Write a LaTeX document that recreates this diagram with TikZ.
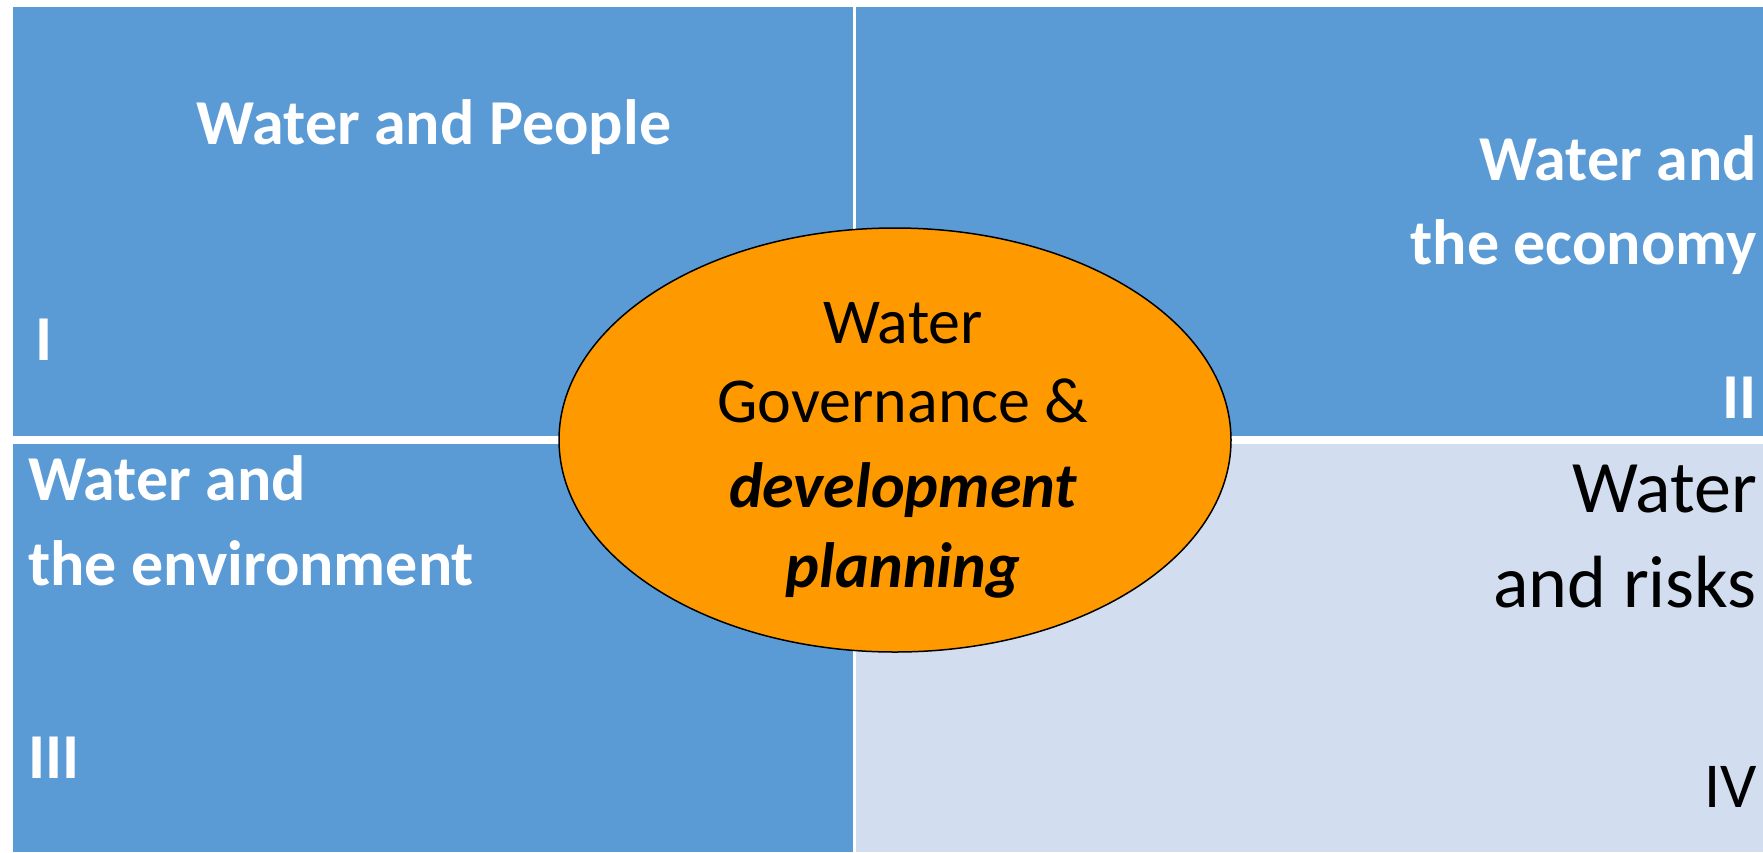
\documentclass[tikz,border=0pt]{standalone}
\usepackage{fontspec}
\setmainfont{Carlito}
\usetikzlibrary{shapes.geometric}
\definecolor{qblue}{RGB}{91,155,213}
\definecolor{qlight}{RGB}{210,222,239}
\definecolor{qorange}{RGB}{255,153,0}
\tikzset{
  bigtxt/.style={inner sep=0pt, font=\fontsize{64}{78}\selectfont},
  wtxt/.style={bigtxt, text=white, font=\fontsize{64}{78}\selectfont\bfseries},
  ktxt/.style={bigtxt, text=black},
  rtxt/.style={bigtxt, text=black, font=\fontsize{74}{88}\selectfont},
  hub/.style={ellipse, draw=black, line width=1.5pt, fill=qorange, minimum width=672pt, minimum height=424pt, inner sep=0pt}
}
\begin{document}
\begin{tikzpicture}[x=1pt,y=-1pt]
\useasboundingbox (0,0) rectangle (1763,852);
\fill[white] (0,0) rectangle (1763,852);
% quadrants
\fill[qblue] (13,7) rectangle (853,436);
\fill[qblue] (856,7) rectangle (1763,436);
\fill[qblue] (13,444) rectangle (853,852);
\fill[qlight] (856,444) rectangle (1763,852);
% quadrant texts
\node[wtxt, anchor=base] (q1) at (434,144) {Water and People};
\node[wtxt, anchor=base west] (n1) at (35,360) {I};
\node[wtxt, anchor=base east] (q2a) at (1757,180) {Water and};
\node[wtxt, anchor=base east] (q2b) at (1757,264) {the economy};
\node[wtxt, anchor=base east] (n2) at (1757,418) {II};
\node[wtxt, anchor=base west] (q3a) at (28,500) {Water and};
\node[wtxt, anchor=base west] (q3b) at (28,585) {the environment};
\node[wtxt, anchor=base west] (n3) at (28,778) {III};
\node[rtxt, anchor=base east] (q4a) at (1757,512) {Water};
\node[rtxt, anchor=base east] (q4b) at (1757,607) {and risks};
\node[ktxt, anchor=base east] (n4) at (1757,807) {IV};
% hub
\node[hub] (hub) at (895,440) {};
\node[ktxt, anchor=base] (h1) at (903,343) {Water};
\node[ktxt, anchor=base] (h2) at (903,422) {Governance \&};
\node[ktxt, anchor=base, font=\fontsize{64}{78}\selectfont\bfseries\itshape] (h3) at (903,507) {development};
\node[ktxt, anchor=base, font=\fontsize{64}{78}\selectfont\bfseries\itshape] (h4) at (903,587) {planning};
\end{tikzpicture}
\end{document}
